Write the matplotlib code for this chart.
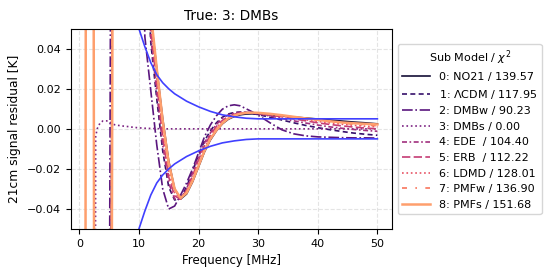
import numpy as np
import matplotlib
matplotlib.use("Agg")
import matplotlib.pyplot as plt

# frequency grid [MHz] shared by all sub models
freq = [1, 1.5, 2, 2.5, 2.75, 3, 3.5, 4, 4.5, 5, 5.5, 6, 7, 8, 9,
        10, 11, 12, 13, 14, 15, 16, 17, 18, 19, 20, 21, 22, 23, 24, 25,
        26, 27, 28, 29, 30, 32, 34, 36, 38, 40, 42, 44, 46, 48, 50]

low_bundle = [-0.5, -0.5, -0.5, -0.5, -0.5, -0.5, -0.5, -0.5, -0.5, -0.5, 0.05, 0.6, 0.9, 1.0, 0.8]

no21 = low_bundle + [0.40, 0.15, 0.056, 0.030, 0.005, -0.016, -0.030, -0.035, -0.0325, -0.0265,
                     -0.019, -0.0115, -0.0055, -0.001, 0.0025, 0.0048, 0.0062, 0.0070, 0.0074,
                     0.0075, 0.0074, 0.0070, 0.0065, 0.0059, 0.0054, 0.0049, 0.0044, 0.0039,
                     0.0034, 0.0030, 0.0025]
lcdm = low_bundle + [0.40, 0.10, 0.043, 0.015, -0.011, -0.029, -0.0355, -0.0345, -0.029, -0.021,
                     -0.013, -0.006, -0.001, 0.003, 0.0058, 0.0074, 0.0082, 0.0084, 0.0082,
                     0.0077, 0.0071, 0.0058, 0.0044, 0.0030, 0.0017, 0.0006, -0.0004, -0.0013,
                     -0.0021, -0.0027, -0.0032]
dmbw = [-0.5, -0.5, -0.5, -0.5, -0.5, -0.5, -0.5, -0.5, -0.5, -0.15, 0.3, 0.6, 0.8, 0.8, 0.5,
        0.2, 0.046, 0.019, -0.008, -0.030, -0.040, -0.0385, -0.033, -0.027, -0.020,
        -0.012, -0.004, 0.002, 0.0065, 0.0098, 0.0115, 0.012, 0.0115, 0.0100, 0.0085,
        0.0068, 0.0030, -0.0005, -0.0025, -0.0035, -0.0040, -0.0042, -0.0044, -0.0045,
        -0.0045, -0.0046]
dmbs = [-0.8, -0.6, -0.4, -0.5, -0.004, 0.0, 0.003, 0.004, 0.004, 0.0038, 0.0025, 0.002,
        0.0015, 0.0012, 0.0008, 0.0005, 0.0003, 0.0002, 0.0001, 0.0, 0.0, 0.0, 0.0, 0.0,
        0.0, 0.0, 0.0, 0.0, 0.0, 0.0, 0.0, 0.0, 0.0, 0.0, 0.0, 0.0, 0.0, 0.0, 0.0, 0.0,
        0.0, 0.0, 0.0, 0.0, 0.0, 0.0]
ede = low_bundle + [0.40, 0.11, 0.046, 0.018, -0.008, -0.027, -0.035, -0.035, -0.030, -0.022,
                    -0.014, -0.007, -0.002, 0.0022, 0.0052, 0.0070, 0.0079, 0.0083, 0.0083,
                    0.0080, 0.0075, 0.0064, 0.0052, 0.0040, 0.0029, 0.0019, 0.0010, 0.0003,
                    -0.0003, -0.0008, -0.0012]
erb = low_bundle + [0.40, 0.12, 0.050, 0.022, -0.004, -0.024, -0.0335, -0.035, -0.0305, -0.0235,
                    -0.0155, -0.0085, -0.0030, 0.0012, 0.0042, 0.0062, 0.0073, 0.0079, 0.0081,
                    0.0080, 0.0077, 0.0069, 0.0060, 0.0050, 0.0040, 0.0030, 0.0022, 0.0015,
                    0.0009, 0.0004, 0.0]
ldmd = low_bundle + [0.40, 0.13, 0.053, 0.025, -0.001, -0.021, -0.032, -0.035, -0.031, -0.0245,
                     -0.0165, -0.0095, -0.0038, 0.0005, 0.0037, 0.0058, 0.0070, 0.0077, 0.0080,
                     0.0080, 0.0078, 0.0071, 0.0063, 0.0054, 0.0045, 0.0037, 0.0030, 0.0023,
                     0.0018, 0.0013, 0.0010]
pmfw = low_bundle + [0.40, 0.14, 0.055, 0.027, 0.001, -0.019, -0.031, -0.035, -0.0315, -0.025,
                     -0.017, -0.010, -0.0043, 0.0, 0.0033, 0.0055, 0.0068, 0.0076, 0.0080,
                     0.0080, 0.0079, 0.0073, 0.0066, 0.0058, 0.0050, 0.0042, 0.0035, 0.0029,
                     0.0023, 0.0019, 0.0015]
pmfs = [-0.2, 1.2, 0.9, -0.1, -0.5, -0.8, -1.0, -1.0, -0.9, -0.6, -0.02, 0.5, 0.9, 1.0, 0.8,
        0.45, 0.16, 0.058, 0.030, 0.004, -0.017, -0.030, -0.0345, -0.032, -0.026,
        -0.0185, -0.011, -0.005, -0.0007, 0.0028, 0.0052, 0.0066, 0.0075, 0.0080, 0.0081,
        0.0080, 0.0075, 0.0068, 0.0060, 0.0052, 0.0045, 0.0038, 0.0032, 0.0028, 0.0025,
        0.0022]

labels = ["0: NO21 / 139.57", r"1: $\Lambda$CDM / 117.95", "2: DMBw / 90.23",
          "3: DMBs / 0.00", "4: EDE  / 104.40", "5: ERB  / 112.22", "6: LDMD / 128.01",
          "7: PMFw / 136.90", "8: PMFs / 151.68"]
models = [no21, lcdm, dmbw, dmbs, ede, erb, ldmd, pmfw, pmfs]

# noise envelope
env_freq = [10, 11, 12, 13, 14, 15, 16, 18, 20, 22, 24, 26, 28, 30, 35, 40, 50]
env_up = [0.050, 0.041, 0.033, 0.027, 0.023, 0.020, 0.0175, 0.0138, 0.011, 0.0087,
          0.0070, 0.0060, 0.0053, 0.0050, 0.0050, 0.0050, 0.0050]
env_lo = [-0.050, -0.041, -0.033, -0.027, -0.023, -0.020, -0.0175, -0.0138, -0.011, -0.0087,
          -0.0070, -0.0060, -0.0053, -0.0050, -0.0050, -0.0050, -0.0050]

styles = ['-', (0, (3, 2)), '-.', ':', (0, (3, 1.5, 1, 1.5)), (0, (5, 2)), ':',
          (0, (3, 5, 1, 5)), '-']
colors = plt.cm.magma(np.linspace(0.1, 0.8, 9))

fig = plt.figure(figsize=(5.56, 2.78), dpi=100)
ax = fig.add_axes([0.127, 0.176, 0.578, 0.721])

for i, vals in enumerate(models):
    lw = 1.8 if i == 8 else 1.2
    ax.plot(freq, vals, ls=styles[i], color=colors[i], lw=lw, label=labels[i])

ax.plot(env_freq, env_up, color=(0.25, 0.25, 1.0), lw=1.2)
ax.plot(env_freq, env_lo, color=(0.25, 0.25, 1.0), lw=1.2)

ax.set_ylim(-0.05, 0.05)
ax.set_yticks([-0.04, -0.02, 0.0, 0.02, 0.04])
ax.grid(ls='--', color='lightgray', alpha=0.6)
ax.tick_params(labelsize=8)
ax.set_xlabel("Frequency [MHz]", fontsize=8.5)
ax.set_ylabel("21cm signal residual [K]", fontsize=8.8)
ax.set_title("True: 3: DMBs", fontsize=9.8)
ax.legend(title=r"Sub Model / $\chi^2$", loc='center left', bbox_to_anchor=(1.0, 0.5),
          fontsize=8, title_fontsize=8, handlelength=2.5)

fig.savefig("out.png", dpi=100)
